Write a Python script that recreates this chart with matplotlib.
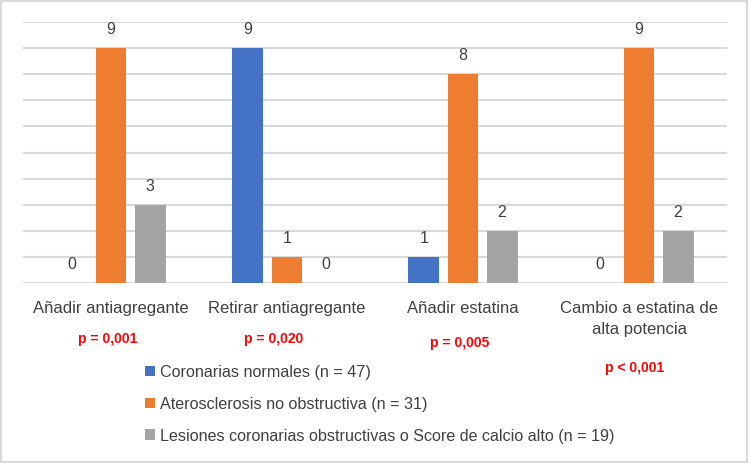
import matplotlib.pyplot as plt
import numpy as np
from matplotlib.patches import Rectangle

# datos
categories = ["Añadir antiagregante", "Retirar antiagregante", "Añadir estatina",
              "Cambio a estatina de\nalta potencia"]
series_names = ["Coronarias normales (n = 47)",
                "Aterosclerosis no obstructiva (n = 31)",
                "Lesiones coronarias obstructivas o Score de calcio alto (n = 19)"]
normales = [0, 9, 1, 0]
no_obstructiva = [9, 1, 8, 9]
obstructivas = [3, 0, 2, 2]
p_values = ["p = 0,001", "p = 0,020", "p = 0,005", "p < 0,001"]

COLORS = ["#4472C4", "#ED7D31", "#A5A5A5"]
TEXT_COLOR = "#404040"
GRID_COLOR = "#D9D9D9"

plt.rcParams["font.family"] = ["Liberation Sans", "DejaVu Sans"]

W, H = 750, 464
fig = plt.figure(figsize=(W / 100, H / 100), dpi=100)
ax = fig.add_axes([23 / W, (H - 284) / H, 704 / W, (284 - 23) / H])

x = np.arange(len(categories))
bar_w = 0.176
step = 0.222
all_series = [normales, no_obstructiva, obstructivas]
for i, (vals, color, name) in enumerate(zip(all_series, COLORS, series_names)):
    ax.bar(x + (i - 1) * step, vals, width=bar_w, color=color, label=name, zorder=3)
    for xi, v in zip(x + (i - 1) * step, vals):
        ax.annotate(str(v), (xi, v), xytext=(0, 14), textcoords="offset points",
                    ha="center", va="center", fontsize=11.5, color=TEXT_COLOR)

ax.set_xlim(-0.5, len(categories) - 0.5)
ax.set_ylim(0, 10)
ax.set_yticks(range(0, 11))
ax.yaxis.grid(True, color=GRID_COLOR, linewidth=1.5, zorder=0)
ax.tick_params(axis="y", left=False, labelleft=False)
for s in ax.spines.values():
    s.set_visible(False)

ax.set_xticks(x)
ax.set_xticklabels(categories, fontsize=12, color=TEXT_COLOR, linespacing=1.45)
ax.tick_params(axis="x", length=0, pad=12.5)

# valores p
p_pos = [(108, 339), (274, 339), (460, 343), (635, 368)]
for txt, (px, py) in zip(p_values, p_pos):
    fig.text(px / W, 1 - py / H, txt, ha="center", va="center", fontsize=10,
             color="red", fontweight="bold")

leg = ax.legend(loc="upper left", bbox_to_anchor=(139 / W, 1 - 359 / H),
                bbox_transform=fig.transFigure, frameon=False, fontsize=11.6,
                handlelength=0.6, handleheight=0.6, handletextpad=0.3,
                labelspacing=1.05, borderaxespad=0)
for t in leg.get_texts():
    t.set_color(TEXT_COLOR)

fig.patches.append(Rectangle((1 / W, 1 / H), (W - 4) / W, (H - 3) / H,
                             transform=fig.transFigure, fill=False,
                             edgecolor=GRID_COLOR, linewidth=1.5))

fig.savefig("out.png", dpi=100)
